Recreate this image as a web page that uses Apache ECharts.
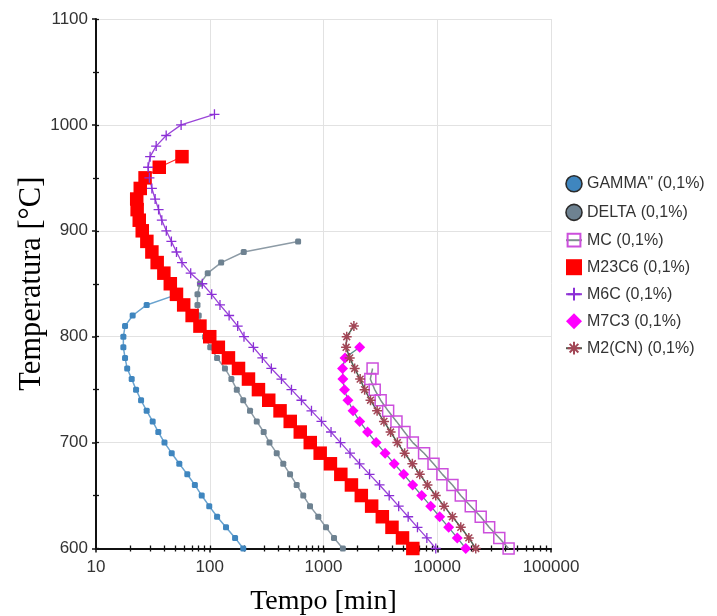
<!DOCTYPE html>
<html>
<head>
<meta charset="utf-8">
<title>TTP</title>
<script src="https://cdn.jsdelivr.net/npm/echarts@6/dist/echarts.min.js"></script>
<style>
  html, body { margin: 0; padding: 0; background: #fff; }
  #chart { width: 717px; height: 616px; }
</style>
</head>
<body>
<div id="chart"></div>
<script>
// Precipitation start curves: [time in min, temperature in °C]
const gamma = [
  [197, 600], [167, 610], [139, 620], [116, 630], [99, 640], [85, 650], [74, 660],
  [63.5, 670], [54, 680], [46.3, 690], [40, 700], [35.3, 710], [31.5, 720], [27.9, 730],
  [24.9, 740], [22.5, 750], [20.6, 760], [18.8, 770], [18, 780], [17.4, 790], [17.4, 800],
  [18, 810], [21, 820], [27.9, 830], [52, 840]
];
const delta = [
  [1480, 600], [1237, 610], [1052, 620], [900, 630], [761, 640], [664, 650], [581, 660],
  [508, 670], [443, 680], [388, 690], [335, 700], [298, 710], [259, 720], [226, 730],
  [197, 740], [173, 750], [155, 760], [136, 770], [116, 780], [101, 790], [91, 800],
  [86, 810], [80, 820], [78, 830], [78, 840], [82, 850], [96, 860], [126, 870],
  [199, 880], [598, 890]
];
const mc = [
  [42400, 600], [35100, 610], [28600, 620], [24100, 630], [19700, 640], [16100, 650],
  [13600, 660], [11100, 670], [9270, 680], [7660, 690], [6100, 700], [5150, 710],
  [4380, 720], [3700, 730], [3180, 740], [2820, 750], [2580, 760], [2700, 770]
];
const m23c6 = [
  [6100, 600], [4950, 610], [4000, 620], [3290, 630], [2650, 640], [2150, 650],
  [1760, 660], [1420, 670], [1150, 680], [935, 690], [765, 700], [625, 710], [510, 720],
  [415, 730], [330, 740], [268, 750], [219, 760], [179, 770], [146, 780], [119, 790],
  [100, 800], [82, 810], [70, 820], [59, 830], [51, 840], [45, 850], [39.5, 860],
  [34.5, 870], [31, 880], [28, 890], [25.5, 900], [24, 910], [23, 920], [22.8, 930],
  [24.5, 940], [27, 950], [36, 960], [57, 970]
];
const m6c = [
  [9700, 600], [8100, 610], [6700, 620], [5550, 630], [4580, 640], [3780, 650],
  [3110, 660], [2540, 670], [2075, 680], [1710, 690], [1410, 700], [1165, 710],
  [960, 720], [784, 730], [640, 740], [523, 750], [427, 760], [348, 770], [290, 780],
  [242, 790], [200, 800], [176, 810], [148, 820], [123, 830], [104, 840], [86, 850],
  [68, 860], [57, 870], [51, 880], [46, 890], [41.5, 900], [37.9, 910], [35.5, 920],
  [33.1, 930], [31, 940], [29.5, 950], [28.7, 960], [29.9, 970], [33.8, 980],
  [41.4, 990], [56, 1000], [110, 1010]
];
const m7c3 = [
  [17800, 600], [15000, 610], [12600, 620], [10500, 630], [8760, 640], [7300, 650],
  [6080, 660], [5070, 670], [4180, 680], [3480, 690], [2900, 700], [2440, 710],
  [2080, 720], [1820, 730], [1640, 740], [1530, 750], [1480, 760], [1470, 770],
  [1545, 780], [2080, 790]
];
const m2cn = [
  [21800, 600], [18950, 610], [16100, 620], [13600, 630], [11480, 640], [9700, 650],
  [8200, 660], [7020, 670], [6040, 680], [5170, 690], [4460, 700], [3890, 710],
  [3400, 720], [2960, 730], [2590, 740], [2300, 750], [2100, 760], [1880, 770],
  [1700, 780], [1580, 790], [1600, 800], [1850, 810]
];

const seriesNames = [
  'GAMMA" (0,1%)', 'DELTA (0,1%)', 'MC (0,1%)', 'M23C6 (0,1%)',
  'M6C (0,1%)', 'M7C3 (0,1%)', 'M2(CN) (0,1%)'
];

// log-axis minor ticks at 2..9 of every decade
const minorTicks = [];
[10, 100, 1000, 10000].forEach(function (d) {
  for (let k = 2; k <= 9; k++) minorTicks.push(d * k);
});

const plusPath = 'path://M5,0L5,10M0,5L10,5';
const starPath = 'path://M5,0L5,10M0,5L10,5M1.6,1.6L8.4,8.4M8.4,1.6L1.6,8.4';

const plainNumber = function (v) { return String(Math.round(v)); };
const labelFont = { fontFamily: 'Liberation Sans, Arial, sans-serif', fontSize: 17, color: '#333' };
const legendFont = { fontFamily: 'Liberation Sans, Arial, sans-serif', fontSize: 16, color: '#333' };
const serif = 'Liberation Serif, Times New Roman, serif';
const gridLine = { show: true, lineStyle: { color: '#e2e2e2', width: 1 } };

function baseX(extra) {
  return Object.assign({
    type: 'log', logBase: 10, min: 10, max: 100000, gridIndex: 0, position: 'bottom'
  }, extra);
}

const chart = echarts.init(document.getElementById('chart'), null, { renderer: 'canvas' });

chart.setOption({
  backgroundColor: '#fff',
  animation: false,
  grid: { left: 96, right: 166, top: 19, bottom: 67.5, containLabel: false, outerBoundsMode: 'none' },
  legend: {
    orient: 'vertical',
    left: 565,
    top: 175,
    itemWidth: 16,
    itemHeight: 16,
    itemGap: 11,
    itemTextGap: 8,
    padding: 0,
    textStyle: legendFont,
    data: [
      { name: seriesNames[0], icon: 'circle', itemStyle: { color: '#3f86bf', borderColor: '#2b2b2b', borderWidth: 1.6 } },
      { name: seriesNames[1], icon: 'circle', itemStyle: { color: '#6e8291', borderColor: '#2b2b2b', borderWidth: 1.6 } },
      { name: seriesNames[2] },
      { name: seriesNames[3], icon: 'rect' },
      { name: seriesNames[4] },
      { name: seriesNames[5], icon: 'diamond' },
      { name: seriesNames[6] }
    ]
  },
  xAxis: [
    baseX({
      name: 'Tempo [min]',
      nameLocation: 'middle',
      nameGap: 39,
      nameMoveOverlap: false,
      nameTextStyle: { fontFamily: serif, fontSize: 28, color: '#000' },
      axisLine: { show: true, lineStyle: { color: '#111', width: 2 } },
      axisTick: { show: true, length: 4, lineStyle: { color: '#111', width: 1.5 } },
      axisLabel: Object.assign({ margin: 10, formatter: plainNumber }, labelFont),
      splitLine: gridLine
    }),
    baseX({
      axisLine: { show: false },
      axisLabel: { show: false },
      axisTick: { show: true, length: 3, customValues: minorTicks, lineStyle: { color: '#111', width: 1.3 } },
      splitLine: { show: false }
    }),
    baseX({
      axisLine: { show: false },
      axisLabel: { show: false },
      axisTick: { show: true, inside: true, length: 3, customValues: minorTicks.concat([100, 1000, 10000]), lineStyle: { color: '#111', width: 1.3 } },
      splitLine: { show: false }
    })
  ],
  yAxis: [
    {
      type: 'value', min: 600, max: 1100, interval: 100,
      name: 'Temperatura [°C]',
      nameLocation: 'middle',
      nameGap: 49,
      nameMoveOverlap: false,
      nameTextStyle: { fontFamily: serif, fontSize: 30.5, color: '#000' },
      axisLine: { show: true, lineStyle: { color: '#111', width: 2 } },
      axisTick: { show: true, length: 4, lineStyle: { color: '#111', width: 1.5 } },
      minorTick: { show: true, splitNumber: 2, length: 3, lineStyle: { color: '#111', width: 1.3 } },
      axisLabel: Object.assign({ margin: 8, formatter: plainNumber }, labelFont),
      splitLine: gridLine
    },
    {
      type: 'value', min: 600, max: 1100, interval: 100, position: 'left',
      axisLine: { show: false },
      axisLabel: { show: false },
      axisTick: { show: true, inside: true, length: 3, lineStyle: { color: '#111', width: 1.3 } },
      minorTick: { show: true, splitNumber: 2, length: 3, lineStyle: { color: '#111', width: 1.3 } },
      splitLine: { show: false }
    }
  ],
  series: [
    {
      name: seriesNames[0], type: 'line', data: gamma,
      symbol: 'roundRect', symbolSize: 6,
      itemStyle: { color: '#3f86bf' },
      lineStyle: { color: '#6aa3cf', width: 1.5 }
    },
    {
      name: seriesNames[1], type: 'line', data: delta,
      symbol: 'roundRect', symbolSize: 6,
      itemStyle: { color: '#6e8291' },
      lineStyle: { color: '#8d9ba6', width: 1.5 }
    },
    {
      name: seriesNames[2], type: 'line', data: mc,
      symbol: 'rect', symbolSize: 11,
      itemStyle: { color: 'rgba(255,255,255,0)', borderColor: '#cc4fdc', borderWidth: 1.5 },
      lineStyle: { color: '#7f8e8e', width: 1.5 }
    },
    {
      name: seriesNames[3], type: 'line', data: m23c6,
      symbol: 'rect', symbolSize: 13.5,
      itemStyle: { color: '#ff0000' },
      lineStyle: { color: '#ff2a2a', width: 1.2 }
    },
    {
      name: seriesNames[4], type: 'line', data: m6c,
      symbol: plusPath, symbolSize: 10,
      itemStyle: { color: 'rgba(0,0,0,0)', borderColor: '#8b2fd6', borderWidth: 1.3 },
      lineStyle: { color: '#9a45d8', width: 1.3 }
    },
    {
      name: seriesNames[5], type: 'line', data: m7c3,
      symbol: 'diamond', symbolSize: 11,
      itemStyle: { color: '#ff00ff' },
      lineStyle: { color: '#5f8c8c', width: 1.3 }
    },
    {
      name: seriesNames[6], type: 'line', data: m2cn,
      symbol: starPath, symbolSize: 10,
      itemStyle: { color: 'rgba(0,0,0,0)', borderColor: '#a24656', borderWidth: 1.5 },
      lineStyle: { color: '#4f5f50', width: 1.5 }
    }
  ]
});
</script>
</body>
</html>
